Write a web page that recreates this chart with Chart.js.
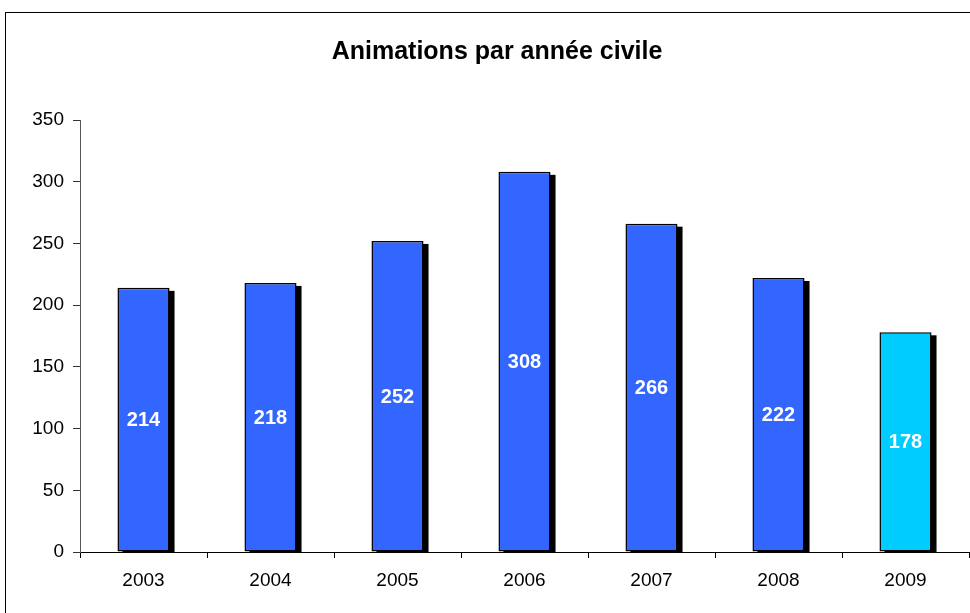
<!DOCTYPE html>
<html>
<head>
<meta charset="utf-8">
<script src="https://cdn.jsdelivr.net/npm/chart.js@4"></script>
<style>
  html, body { margin: 0; padding: 0; background: #fff; }
  #wrap { width: 970px; height: 613px; }
</style>
</head>
<body>
<div id="wrap"><canvas id="chart" width="970" height="613"></canvas></div>
<script>
// Animations per calendar year
const TITLE = 'Animations par année civile';
const YEARS = ['2003', '2004', '2005', '2006', '2007', '2008', '2009'];
const ANIMATIONS = [214, 218, 252, 308, 266, 222, 178];
const Y_TICKS = [0, 50, 100, 150, 200, 250, 300, 350];

const BAR_COLORS = YEARS.map((y, i) => i === YEARS.length - 1 ? '#00CCFF' : '#3366FF');
const FONT = '"Liberation Sans", Arial, sans-serif';

// black drop shadow behind each bar + outer frame + title
const decorations = {
    id: 'decorations',
    beforeDraw(chart) {
        const ctx = chart.ctx;
        ctx.save();
        ctx.fillStyle = '#fff';
        ctx.fillRect(0, 0, chart.width, chart.height);
        ctx.strokeStyle = '#000';
        ctx.lineWidth = 1;
        ctx.strokeRect(5.5, 12.5, chart.width + 10, chart.height + 10);
        ctx.fillStyle = '#000';
        ctx.font = 'bold 25px ' + FONT;
        ctx.textAlign = 'center';
        ctx.textBaseline = 'middle';
        ctx.fillText(TITLE, 497, 52);
        ctx.restore();
    },
    beforeDatasetsDraw(chart) {
        const ctx = chart.ctx;
        const area = chart.chartArea;
        ctx.save();
        ctx.fillStyle = '#000';
        chart.getDatasetMeta(0).data.forEach(bar => {
            const w = bar.width;
            const left = bar.x - w / 2 + 5;
            const top = bar.y + 3;
            ctx.fillRect(left, top, w, area.bottom - top);
        });
        ctx.restore();
    },
    afterDatasetsDraw(chart) {
        const ctx = chart.ctx;
        ctx.save();
        ctx.fillStyle = '#fff';
        ctx.font = 'bold 20px ' + FONT;
        ctx.textAlign = 'center';
        ctx.textBaseline = 'middle';
        chart.getDatasetMeta(0).data.forEach((bar, i) => {
            ctx.fillText(String(ANIMATIONS[i]), bar.x, (bar.y + bar.base) / 2 + 1);
        });
        ctx.restore();
    }
};

const ctx = document.getElementById('chart').getContext('2d');
new Chart(ctx, {
    type: 'bar',
    data: {
        labels: YEARS,
        datasets: [{
            data: ANIMATIONS,
            backgroundColor: BAR_COLORS,
            borderColor: '#000',
            borderWidth: 1.5,
            borderSkipped: false,
            categoryPercentage: 1,
            barPercentage: 0.41
        }]
    },
    options: {
        responsive: false,
        animation: false,
        layout: { padding: { top: 120, right: 1, left: 0, bottom: 0 } },
        plugins: {
            legend: { display: false },
            title: { display: false },
            tooltip: { enabled: false }
        },
        scales: {
            x: {
                offset: true,
                afterFit(scale) { scale.height = 61; },
                grid: {
                    offset: true,
                    drawOnChartArea: false,
                    tickLength: 6,
                    color: '#000'
                },
                border: { color: '#000', width: 1 },
                ticks: {
                    color: '#000',
                    padding: 11,
                    font: { family: FONT, size: 19 }
                }
            },
            y: {
                min: 0,
                max: 350,
                afterFit(scale) { scale.width = 80; },
                afterBuildTicks(scale) { scale.ticks = Y_TICKS.map(v => ({ value: v })); },
                grid: {
                    drawOnChartArea: false,
                    tickLength: 7,
                    color: '#333'
                },
                border: { color: '#555', width: 1 },
                ticks: {
                    color: '#000',
                    padding: 9,
                    font: { family: FONT, size: 19 }
                }
            }
        }
    },
    plugins: [decorations]
});
</script>
</body>
</html>
